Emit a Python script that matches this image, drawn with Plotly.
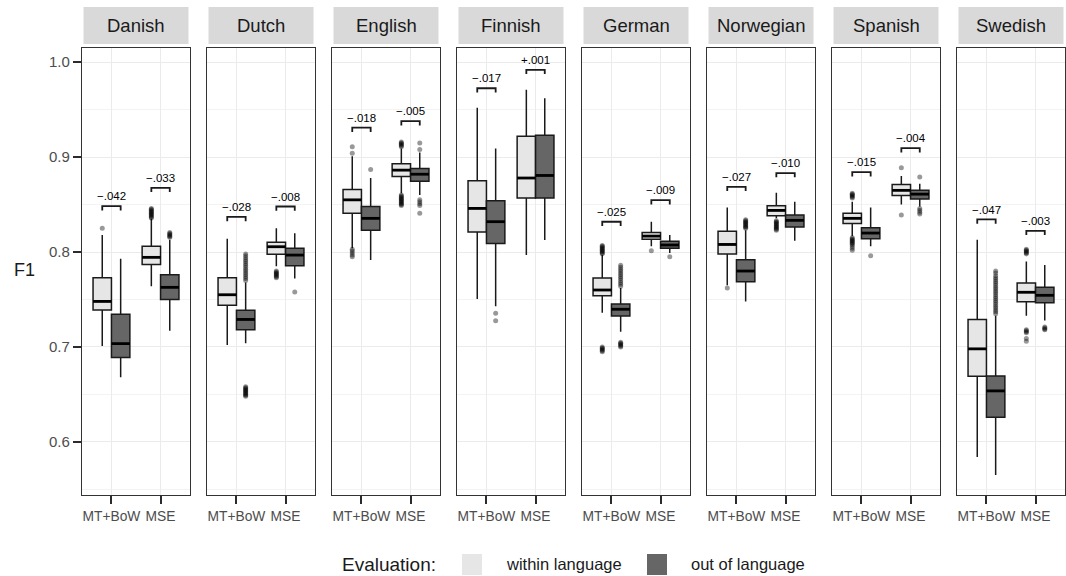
import plotly.graph_objects as go

# ---------------- data ----------------
languages = ["Danish", "Dutch", "English", "Finnish", "German", "Norwegian", "Spanish", "Swedish"]
models = ["MT+BoW", "MSE"]
evaluations = ["within language", "out of language"]

# within language, MT+BoW
win_mt_low = [0.701, 0.702, 0.804, 0.7505, 0.736, 0.765, 0.817, 0.584]
win_mt_q1 = [0.739, 0.744, 0.841, 0.821, 0.754, 0.798, 0.830, 0.669]
win_mt_med = [0.748, 0.755, 0.855, 0.846, 0.760, 0.808, 0.8355, 0.698]
win_mt_q3 = [0.773, 0.773, 0.866, 0.875, 0.7726, 0.822, 0.841, 0.729]
win_mt_high = [0.818, 0.814, 0.901, 0.952, 0.797, 0.847, 0.853, 0.813]
win_mt_out = [
    [0.825],
    [],
    [0.911, 0.904, 0.803, 0.801, 0.799, 0.797, 0.795],
    [],
    [0.798, 0.799, 0.800, 0.801, 0.802, 0.803, 0.804, 0.805, 0.806, 0.807,
     0.695, 0.696, 0.697, 0.698, 0.699, 0.700],
    [0.762],
    [0.857, 0.858, 0.859, 0.860, 0.861, 0.862,
     0.815, 0.814, 0.813, 0.812, 0.811, 0.810, 0.809, 0.808, 0.806, 0.804, 0.802],
    [],
]

# out of language, MT+BoW
out_mt_low = [0.668, 0.704, 0.7916, 0.743, 0.716, 0.748, 0.806, 0.565]
out_mt_q1 = [0.689, 0.718, 0.823, 0.809, 0.7326, 0.7687, 0.814, 0.626]
out_mt_med = [0.7035, 0.729, 0.8355, 0.832, 0.7397, 0.780, 0.820, 0.6537]
out_mt_q3 = [0.7344, 0.7386, 0.848, 0.854, 0.7453, 0.792, 0.8256, 0.6695]
out_mt_high = [0.793, 0.768, 0.878, 0.909, 0.762, 0.823, 0.847, 0.733]
out_mt_out = [
    [],
    [0.770, 0.772, 0.774, 0.776, 0.778, 0.780, 0.782, 0.784, 0.786, 0.788,
     0.790, 0.792, 0.794, 0.796, 0.798,
     0.648, 0.649, 0.650, 0.651, 0.652, 0.653, 0.654, 0.655, 0.656, 0.657, 0.658],
    [0.887],
    [0.7355, 0.7277],
    [0.764, 0.766, 0.768, 0.770, 0.772, 0.774, 0.776, 0.778, 0.780, 0.782,
     0.784, 0.786, 0.700, 0.701, 0.702, 0.703, 0.704, 0.705],
    [0.825, 0.826, 0.827, 0.828, 0.829, 0.830, 0.831, 0.832, 0.833, 0.834],
    [0.796],
    [0.735, 0.737, 0.739, 0.741, 0.743, 0.745, 0.747, 0.749, 0.751, 0.753,
     0.755, 0.757, 0.759, 0.761, 0.763, 0.765, 0.767, 0.769, 0.771, 0.773,
     0.775, 0.778, 0.780],
]

# within language, MSE
win_mse_low = [0.764, 0.785, 0.862, 0.797, 0.806, 0.8355, 0.850, 0.733]
win_mse_q1 = [0.787, 0.7976, 0.8797, 0.857, 0.8134, 0.8382, 0.8597, 0.7477]
win_mse_med = [0.7944, 0.8056, 0.8863, 0.878, 0.8168, 0.8439, 0.865, 0.7576]
win_mse_q3 = [0.806, 0.8102, 0.893, 0.922, 0.8207, 0.8488, 0.8713, 0.7674]
win_mse_high = [0.835, 0.825, 0.909, 0.971, 0.832, 0.8624, 0.880, 0.790]
win_mse_out = [
    [0.836, 0.837, 0.838, 0.839, 0.840, 0.841, 0.842, 0.843, 0.844, 0.845, 0.846],
    [0.773, 0.774, 0.775, 0.776, 0.777, 0.778, 0.779, 0.780],
    [0.911, 0.912, 0.913, 0.914, 0.915, 0.916,
     0.849, 0.850, 0.851, 0.852, 0.853, 0.854, 0.855, 0.856, 0.857, 0.858, 0.859, 0.860],
    [],
    [0.8014],
    [0.823, 0.824, 0.825, 0.826, 0.827, 0.828, 0.829, 0.830, 0.831, 0.832, 0.833],
    [0.8887, 0.839],
    [0.798, 0.799, 0.800, 0.801, 0.802, 0.803, 0.715, 0.716, 0.717, 0.718, 0.709, 0.706],
]

# out of language, MSE
out_mse_low = [0.717, 0.772, 0.860, 0.8126, 0.799, 0.812, 0.848, 0.728]
out_mse_q1 = [0.750, 0.7856, 0.8747, 0.857, 0.8039, 0.8263, 0.856, 0.7466]
out_mse_med = [0.7628, 0.7968, 0.882, 0.8807, 0.8074, 0.8334, 0.861, 0.7544]
out_mse_q3 = [0.776, 0.804, 0.888, 0.923, 0.8113, 0.839, 0.865, 0.7628]
out_mse_high = [0.813, 0.8197, 0.905, 0.962, 0.8179, 0.853, 0.872, 0.7863]
out_mse_out = [
    [0.8155, 0.8165, 0.8175, 0.8185, 0.8195, 0.8207],
    [0.758],
    [0.915, 0.908, 0.855, 0.853, 0.851, 0.849, 0.841],
    [],
    [0.795],
    [],
    [0.879, 0.840, 0.842, 0.844, 0.846],
    [0.718, 0.719, 0.720, 0.721],
]

# bracket heights and labelled differences (out - within)
bracket_mt = [0.8484, 0.837, 0.931, 0.9726, 0.8319, 0.8687, 0.8842, 0.8344]
bracket_mse = [0.8677, 0.848, 0.9379, 0.992, 0.8547, 0.8832, 0.9095, 0.8224]
diff_mt = ["\u2212.042", "\u2212.028", "\u2212.018", "\u2212.017", "\u2212.025", "\u2212.027", "\u2212.015", "\u2212.047"]
diff_mse = ["\u2212.033", "\u2212.008", "\u2212.005", "+.001", "\u2212.009", "\u2212.010", "\u2212.004", "\u2212.003"]

y_ticks = [0.6, 0.7, 0.8, 0.9, 1.0]

# ---------------- styling / layout ----------------
W, H = 1066, 576
FONT = "Liberation Sans, Arial, Helvetica, sans-serif"
fill_colors = ["#E6E6E6", "#666666"]
panel_left = 82
panel_step = 125
panel_w = 108
panel_top, panel_bottom = 48, 495
strip_top, strip_bottom = 7, 44
box_w = 0.375
dodge = [-0.1875, 0.1875]
y_range = [0.544, 1.015]


def px_x(v):
    return v / W


def px_y(v):
    return 1 - v / H


fig = go.Figure()
layout = dict(
    width=W, height=H,
    margin=dict(l=0, r=0, t=0, b=0),
    paper_bgcolor="white", plot_bgcolor="white",
    showlegend=False,
    font=dict(family=FONT, color="#4D4D4D"),
)
shapes = []
annotations = []

groups = [
    # (model index, eval index, stats)
    (0, 0, win_mt_low, win_mt_q1, win_mt_med, win_mt_q3, win_mt_high, win_mt_out),
    (0, 1, out_mt_low, out_mt_q1, out_mt_med, out_mt_q3, out_mt_high, out_mt_out),
    (1, 0, win_mse_low, win_mse_q1, win_mse_med, win_mse_q3, win_mse_high, win_mse_out),
    (1, 1, out_mse_low, out_mse_q1, out_mse_med, out_mse_q3, out_mse_high, out_mse_out),
]

for i, lang in enumerate(languages):
    n = "" if i == 0 else str(i + 1)
    xa, ya = "x" + n, "y" + n
    left = panel_left + i * panel_step
    right = left + panel_w

    layout["xaxis" + n] = dict(
        domain=[px_x(left), px_x(right)], anchor=ya,
        range=[0.4, 2.6], tickvals=[1, 2], ticktext=models,
        showgrid=True, gridcolor="#EBEBEB", gridwidth=1, zeroline=False,
        showline=True, mirror=True, linecolor="#333333", linewidth=1.3,
        ticks="outside", ticklen=8, tickwidth=2.2, tickcolor="#2B2B2B",
        tickfont=dict(size=13.8, color="#4D4D4D", family=FONT),
        fixedrange=True,
    )
    yax = dict(
        domain=[px_y(panel_bottom), px_y(panel_top)], anchor=xa,
        range=y_range, tickvals=y_ticks, tickformat=".1f",
        showgrid=True, gridcolor="#EBEBEB", gridwidth=1, zeroline=False,
        minor=dict(showgrid=True, gridcolor="#F3F3F3", gridwidth=1, dtick=0.05, tick0=0.05),
        showline=True, mirror=True, linecolor="#333333", linewidth=1.3,
        fixedrange=True,
    )
    if i == 0:
        yax.update(ticks="outside", ticklen=8, tickwidth=2.2, tickcolor="#2B2B2B",
                   tickfont=dict(size=15, color="#4D4D4D", family=FONT))
    else:
        yax.update(showticklabels=False, ticks="", matches="y")
    layout["yaxis" + n] = yax

    # facet strip
    shapes.append(dict(type="rect", xref="paper", yref="paper",
                       x0=px_x(left + 1.5), x1=px_x(right - 1.5),
                       y0=px_y(strip_bottom), y1=px_y(strip_top),
                       fillcolor="#D9D9D9", line=dict(width=0), layer="below"))
    annotations.append(dict(xref="paper", yref="paper", x=px_x((left + right) / 2),
                            y=px_y((strip_top + strip_bottom) / 2), text=lang, showarrow=False,
                            xanchor="center", yanchor="middle",
                            font=dict(size=18.5, color="#1A1A1A", family=FONT)))

    for m, e, low, q1, med, q3, high, outl in groups:
        xpos = m + 1 + dodge[e]
        fig.add_trace(go.Box(
            x=[xpos], q1=[q1[i]], median=[med[i]], q3=[q3[i]],
            lowerfence=[low[i]], upperfence=[high[i]],
            width=box_w, whiskerwidth=0, boxpoints=False,
            fillcolor=fill_colors[e], line=dict(color="#1A1A1A", width=1.5),
            xaxis=xa, yaxis=ya, hoverinfo="skip",
        ))
        # thicker median bar
        fig.add_trace(go.Scatter(
            x=[xpos - box_w / 2, xpos + box_w / 2], y=[med[i], med[i]],
            mode="lines", line=dict(color="#000000", width=2.8),
            xaxis=xa, yaxis=ya, hoverinfo="skip",
        ))
        if outl[i]:
            fig.add_trace(go.Scatter(
                x=[xpos] * len(outl[i]), y=outl[i], mode="markers",
                marker=dict(color="#000000", size=5, opacity=0.4, line=dict(width=0)),
                xaxis=xa, yaxis=ya, hoverinfo="skip",
            ))

    # significance brackets
    for m, (yb, lab) in enumerate([(bracket_mt[i], diff_mt[i]), (bracket_mse[i], diff_mse[i])]):
        xa0 = m + 1 + dodge[0]
        xa1 = m + 1 + dodge[1]
        drop = 0.0045
        fig.add_trace(go.Scatter(
            x=[xa0, xa0, xa1, xa1], y=[yb - drop, yb, yb, yb - drop],
            mode="lines", line=dict(color="#1A1A1A", width=1.8),
            xaxis=xa, yaxis=ya, hoverinfo="skip",
        ))
        annotations.append(dict(xref=xa, yref=ya, x=m + 1, y=yb + 0.002, text=lab,
                                showarrow=False, xanchor="center", yanchor="bottom",
                                font=dict(size=11.5, color="#000000", family=FONT)))

# y-axis title
annotations.append(dict(xref="paper", yref="paper", x=px_x(24), y=px_y(270), text="F1",
                        showarrow=False, xanchor="center", yanchor="middle",
                        font=dict(size=18, color="#1A1A1A", family=FONT)))

# legend
leg_y = 564
annotations.append(dict(xref="paper", yref="paper", x=px_x(340), y=px_y(leg_y), text="Evaluation:",
                        showarrow=False, xanchor="left", yanchor="middle",
                        font=dict(size=19, color="#1A1A1A", family=FONT)))
legend_keys = [(462, 504), (647, 689)]
for e, (kx, tx) in enumerate(legend_keys):
    shapes.append(dict(type="rect", xref="paper", yref="paper",
                       x0=px_x(kx), x1=px_x(kx + 20), y0=px_y(leg_y + 11), y1=px_y(leg_y - 10),
                       fillcolor=fill_colors[e], line=dict(width=0)))
    annotations.append(dict(xref="paper", yref="paper", x=px_x(tx), y=px_y(leg_y), text=evaluations[e],
                            showarrow=False, xanchor="left", yanchor="middle",
                            font=dict(size=16.5, color="#1A1A1A", family=FONT)))

layout["shapes"] = shapes
layout["annotations"] = annotations
fig.update_layout(**layout)

fig.write_html("out.html")
